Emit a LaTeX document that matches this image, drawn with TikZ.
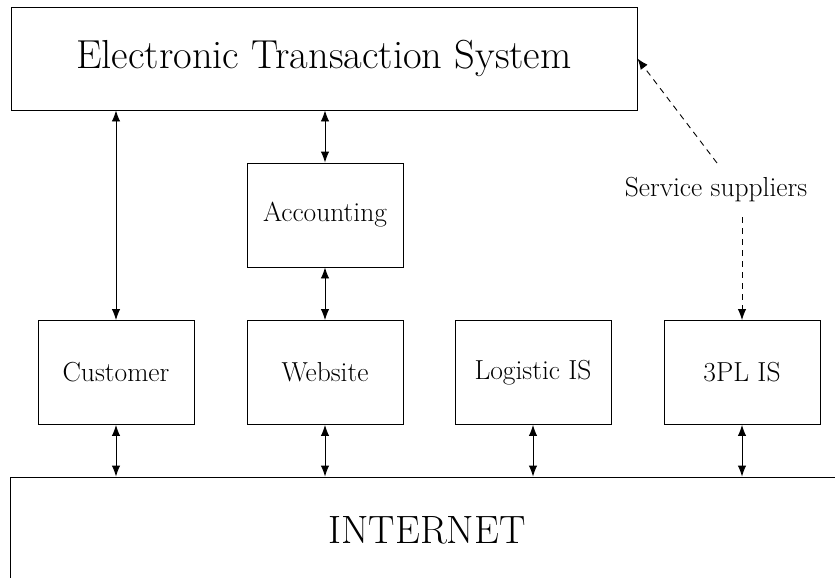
\documentclass[tikz,border=0pt]{standalone}
\usetikzlibrary{arrows.meta}
\begin{document}
\begin{tikzpicture}[x=1pt,y=-1pt,
  box/.style={draw,line width=0.9pt,inner sep=0pt,minimum width=156pt,minimum height=104pt,font=\fontsize{27.5}{32}\selectfont},
  bigbox/.style={draw,line width=0.9pt,inner sep=0pt,font=\fontsize{39.5}{46}\selectfont},
  link/.style={line width=0.9pt,{Latex[length=11pt,width=8.5pt]}-{Latex[length=11pt,width=8.5pt]}},
  dlink/.style={line width=0.9pt,dash pattern=on 6pt off 5pt,-{Latex[length=11pt,width=8.5pt]}},
  lbl/.style={inner sep=0pt,font=\fontsize{27.5}{32}\selectfont}]
\useasboundingbox (0,0) rectangle (835,578);
\clip (0,0) rectangle (835,578);
\node[bigbox,minimum width=626pt,minimum height=103pt,font=\fontsize{40.5}{47}\selectfont] (ets) at (324,58.5) {Electronic Transaction System};
\node[box] (acc) at (325,215) {Accounting};
\node[box] (cus) at (116,372.5) {Customer};
\node[box] (web) at (325,372.5) {Website};
\node[box] (log) at (533,372.5) {Logistic IS};
\node[box] (tpl) at (742,372.5) {3PL IS};
\node[bigbox,minimum width=834pt,minimum height=106pt] (net) at (427,530) {INTERNET};
\node[lbl] (sup) at (716,190) {Service suppliers};
\coordinate (s1) at (717,163);
\coordinate (s2) at (742,217);
\draw[link] (cus.north) -- (cus.north |- ets.south);
\draw[link] (acc.north) -- (acc.north |- ets.south);
\draw[link] (web.north) -- (acc.south);
\foreach \n in {cus,web,log,tpl}{\draw[link] (\n.south) -- (\n.south |- net.north);}
\draw[dlink] (s1) -- (ets.east);
\draw[dlink] (s2) -- (tpl.north);
\end{tikzpicture}
\end{document}
